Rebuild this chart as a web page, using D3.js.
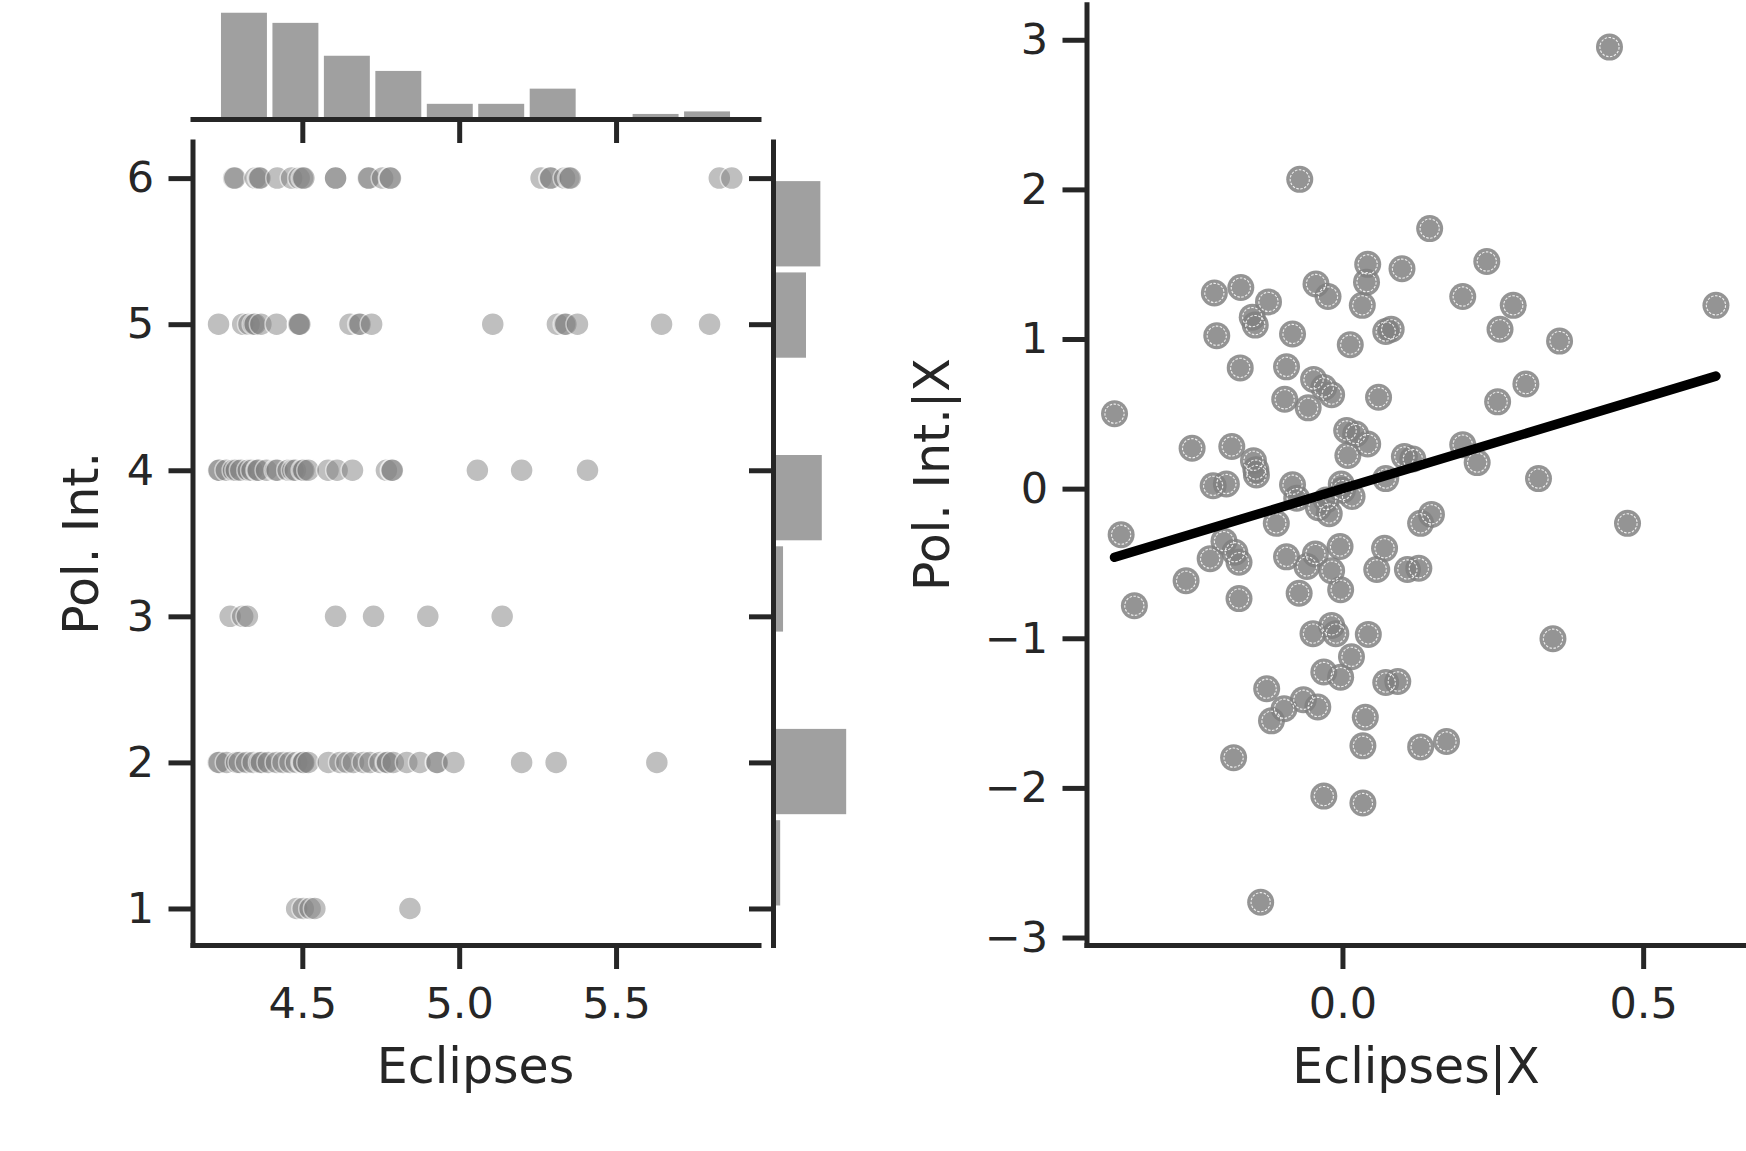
<!DOCTYPE html>
<html><head><meta charset="utf-8">
<script src="https://cdn.jsdelivr.net/npm/d3@7"></script>
<style>
html,body{margin:0;padding:0;background:#fff;}
svg{display:block;}
</style></head><body>
<svg id="chart" width="1746" height="1151"></svg>
<script>
// ---------- Joint plot data (Eclipses vs Pol. Int.) ----------
const polIntLevels = [1, 2, 3, 4, 5, 6];
const eclipsesAt1 = [4.482, 4.503, 4.525, 4.540, 4.843];
const eclipsesAt2 = [4.232, 4.235, 4.259, 4.291, 4.300, 4.323, 4.344, 4.365, 4.370, 4.392, 4.418, 4.439,
  4.461, 4.482, 4.500, 4.503, 4.505, 4.519, 4.583, 4.620, 4.642, 4.663, 4.695, 4.716, 4.748, 4.769,
  4.772, 4.790, 4.833, 4.875, 4.928, 4.930, 4.983, 5.199, 5.309, 5.630];
const eclipsesAt3 = [4.270, 4.310, 4.325, 4.606, 4.727, 4.900, 5.137];
const eclipsesAt4 = [4.233, 4.235, 4.258, 4.281, 4.290, 4.304, 4.328, 4.340, 4.357, 4.360, 4.386, 4.415,
  4.420, 4.455, 4.470, 4.478, 4.501, 4.505, 4.519, 4.582, 4.611, 4.660, 4.768, 4.785, 4.787, 5.058,
  5.199, 5.409];
const eclipsesAt5 = [4.233, 4.310, 4.330, 4.345, 4.350, 4.368, 4.418, 4.489, 4.489, 4.492, 4.652, 4.681,
  4.684, 4.721, 5.107, 5.313, 5.336, 5.340, 5.377, 5.645, 5.798];
const eclipsesAt6 = [4.281, 4.285, 4.350, 4.362, 4.365, 4.420, 4.466, 4.490, 4.501, 4.505, 4.606, 4.606,
  4.710, 4.712, 4.756, 4.779, 4.781, 5.261, 5.290, 5.292, 5.336, 5.350, 5.354, 5.829, 5.869];

// marginal histograms
const eclipsesBinEdges = [4.232, 4.396, 4.560, 4.724, 4.888, 5.052, 5.216, 5.380, 5.544, 5.708, 5.872];
const eclipsesBinCounts = [42, 38, 25, 19, 6, 6, 12, 0, 2, 3];
const polIntBinEdges = [1, 1.625, 2.25, 2.875, 3.5, 4.125, 4.75, 5.375, 6];
const polIntBinCounts = [5, 51, 0, 7, 34, 0, 23, 33];

const eclipsesTicks = [4.5, 5.0, 5.5];
const polIntTicks = [1, 2, 3, 4, 5, 6];

// ---------- Partial regression data ----------
const residEclipses = [0.444, -0.071, 0.145, 0.240, 0.042, 0.099, -0.044, 0.040, -0.169, -0.213, -0.024,
  -0.123, 0.033, 0.200, 0.284, 0.621, -0.150, -0.145, -0.209, -0.083, 0.072, 0.081, 0.262, 0.013, 0.361,
  -0.170, -0.093, -0.048, -0.031, -0.018, -0.096, -0.057, 0.060, 0.258, 0.305, -0.379, 0.007, 0.022,
  0.042, 0.009, -0.250, -0.184, -0.148, -0.144, -0.143, 0.103, 0.117, 0.200, 0.224, -0.215, -0.193,
  -0.083, -0.002, 0.072, 0.326, -0.368, -0.076, -0.027, 0.016, 0.148, 0.130, 0.474, -0.110, -0.197,
  -0.004, 0.070, -0.179, -0.172, -0.220, -0.260, -0.346, -0.172, -0.093, -0.059, -0.045, -0.018, -0.003,
  -0.072, 0.057, 0.108, 0.127, -0.049, -0.018, -0.011, 0.043, 0.350, 0.015, -0.031, -0.003, 0.072, 0.092,
  -0.126, -0.065, -0.041, -0.097, -0.118, 0.038, 0.034, 0.130, 0.173, -0.181, -0.031, 0.034, -0.136,
  -0.040, -0.022, 0.000];
const residPolInt = [2.951, 2.067, 1.738, 1.518, 1.499, 1.470, 1.368, 1.380, 1.344, 1.308, 1.284,
  1.248, 1.225, 1.284, 1.225, 1.225, 1.146, 1.093, 1.022, 1.034, 1.050, 1.065, 1.065, 0.962, 0.986,
  0.807, 0.814, 0.730, 0.676, 0.628, 0.597, 0.540, 0.611, 0.580, 0.699, 0.501, 0.389, 0.365,
  0.298, 0.222, 0.270, 0.282, 0.186, 0.127, 0.091, 0.215, 0.198, 0.294, 0.174, 0.019, 0.031,
  0.026, 0.031, 0.067, 0.067, -0.308, -0.064, -0.076, -0.053, -0.172, -0.232, -0.232, -0.232, -0.351,
  -0.387, -0.399, -0.425, -0.492, -0.468, -0.616, -0.783, -0.735, -0.456, -0.520, -0.437, -0.549, -0.676,
  -0.699, -0.540, -0.540, -0.532, -0.969, -0.914, -0.969, -0.974, -1.003, -1.124, -1.225, -1.260, -1.296, -1.289,
  -1.337, -1.411, -1.459, -1.471, -1.552, -1.528, -1.719, -1.726, -1.690, -1.798, -2.055, -2.101, -2.764,
  -0.127, -0.167, -0.010];
const fitEclipses = [-0.379, 0.621];
const fitPolInt = [-0.459, 0.752];
const residXTicks = [0.0, 0.5];
const residYTicks = [-3, -2, -1, 0, 1, 2, 3];

// ---------- Drawing ----------
const svg = d3.select("#chart");
const INK = "#262626";
const FONT = "DejaVu Sans";

function styleAxis(g, labelSize) {
  g.attr("font-family", FONT).attr("font-size", labelSize);
  g.select(".domain").attr("stroke", INK).attr("stroke-width", 5).attr("stroke-linecap", "square");
  g.selectAll(".tick line").attr("stroke", INK).attr("stroke-width", 5);
  g.selectAll(".tick text").attr("fill", INK);
}

// scales for joint plot
const xMain = d3.scaleLinear().domain([4.150, 5.954]).range([192.5, 758.5]);
const yMain = d3.scaleLinear().domain([0.75, 6.25]).range([945, 141.6]);
const topCount = d3.scaleLinear().domain([0, 45]).range([119, 119 - 45 * 2.53]);
const rightCount = d3.scaleLinear().domain([0, 54]).range([773, 773 + 54 * 1.435]);

// top marginal bars
const topBins = eclipsesBinCounts.map((c, i) => ({x0: eclipsesBinEdges[i], x1: eclipsesBinEdges[i + 1], c}));
svg.append("g").selectAll("rect").data(topBins.filter(d => d.c > 0)).join("rect")
  .attr("x", d => xMain(d.x0) + 2.75)
  .attr("width", d => xMain(d.x1) - xMain(d.x0) - 5.5)
  .attr("y", d => topCount(d.c))
  .attr("height", d => topCount(0) - topCount(d.c))
  .attr("fill", "#a0a0a0");

// right marginal bars
const rightBins = polIntBinCounts.map((c, i) => ({y0: polIntBinEdges[i], y1: polIntBinEdges[i + 1], c}));
svg.append("g").selectAll("rect").data(rightBins.filter(d => d.c > 0)).join("rect")
  .attr("y", d => yMain(d.y1) + 3)
  .attr("height", d => yMain(d.y0) - yMain(d.y1) - 6)
  .attr("x", rightCount(0))
  .attr("width", d => rightCount(d.c) - rightCount(0))
  .attr("fill", "#a0a0a0");

// joint scatter
const rows = [eclipsesAt1, eclipsesAt2, eclipsesAt3, eclipsesAt4, eclipsesAt5, eclipsesAt6];
const jointPts = [];
rows.forEach((arr, i) => arr.forEach(x => jointPts.push({x, y: polIntLevels[i]})));
svg.append("g").selectAll("circle").data(jointPts).join("circle")
  .attr("cx", d => xMain(d.x)).attr("cy", d => yMain(d.y)).attr("r", 11.5)
  .attr("fill", "#808080").attr("stroke", "#ffffff").attr("stroke-width", 1.5)
  .attr("opacity", 0.5);

// joint axes
styleAxis(svg.append("g").attr("transform", "translate(192.5,0)")
  .call(d3.axisLeft(yMain).tickValues(polIntTicks).tickFormat(d3.format("d")).tickSize(24).tickPadding(14.5).tickSizeOuter(0)), 43);
styleAxis(svg.append("g").attr("transform", "translate(0,945)")
  .call(d3.axisBottom(xMain).tickValues(eclipsesTicks).tickFormat(d3.format(".1f")).tickSize(24).tickPadding(18).tickSizeOuter(0)), 43);
styleAxis(svg.append("g").attr("transform", "translate(0,119)")
  .call(d3.axisBottom(xMain).tickValues(eclipsesTicks).tickFormat("").tickSize(24).tickSizeOuter(0)), 43);
styleAxis(svg.append("g").attr("transform", "translate(773,0)")
  .call(d3.axisLeft(yMain).tickValues(polIntTicks).tickFormat("").tickSize(24).tickSizeOuter(0)), 43);

svg.append("text").attr("x", 475.5).attr("y", 1083).attr("text-anchor", "middle")
  .attr("font-family", FONT).attr("font-size", 49).attr("fill", INK).text("Eclipses");
svg.append("text").attr("transform", "translate(98,543.3) rotate(-90)").attr("text-anchor", "middle")
  .attr("font-family", FONT).attr("font-size", 49).attr("fill", INK).text("Pol. Int.");

// ---------- Partial regression plot ----------
const xR = d3.scaleLinear().domain([-0.4256, 0.671]).range([1086.5, 1746]);
const yR = d3.scaleLinear().domain([-3.05, 3.237]).range([945, 4.3]);
const residPts = residEclipses.map((x, i) => ({x, y: residPolInt[i]}));
const pg = svg.append("g");
pg.selectAll("circle.pt").data(residPts).join("circle").attr("class", "pt")
  .attr("cx", d => xR(d.x)).attr("cy", d => yR(d.y)).attr("r", 13.5)
  .attr("fill", "#808080").attr("fill-opacity", 0.84);
pg.selectAll("circle.ring").data(residPts).join("circle").attr("class", "ring")
  .attr("cx", d => xR(d.x)).attr("cy", d => yR(d.y)).attr("r", 9.6)
  .attr("fill", "none").attr("stroke", "#ffffff").attr("stroke-width", 1.1)
  .attr("stroke-dasharray", "2.5,1.5").attr("stroke-opacity", 0.85);

const fitPts = fitEclipses.map((x, i) => [xR(x), yR(fitPolInt[i])]);
svg.append("path").attr("d", d3.line()(fitPts)).attr("stroke", "#000").attr("stroke-width", 9.5)
  .attr("stroke-linecap", "round").attr("fill", "none");

styleAxis(svg.append("g").attr("transform", "translate(1086.5,0)")
  .call(d3.axisLeft(yR).tickValues(residYTicks).tickFormat(d3.format("d")).tickSize(24).tickPadding(14.5).tickSizeOuter(0)), 43);
styleAxis(svg.append("g").attr("transform", "translate(0,945)")
  .call(d3.axisBottom(xR).tickValues(residXTicks).tickFormat(d3.format(".1f")).tickSize(24).tickPadding(18).tickSizeOuter(0)), 43);

svg.append("text").attr("x", 1416).attr("y", 1083).attr("text-anchor", "middle")
  .attr("font-family", FONT).attr("font-size", 49).attr("fill", INK).text("Eclipses|X");
svg.append("text").attr("transform", "translate(949,474.6) rotate(-90)").attr("text-anchor", "middle")
  .attr("font-family", FONT).attr("font-size", 49).attr("fill", INK).text("Pol. Int.|X");
</script>
</body></html>
